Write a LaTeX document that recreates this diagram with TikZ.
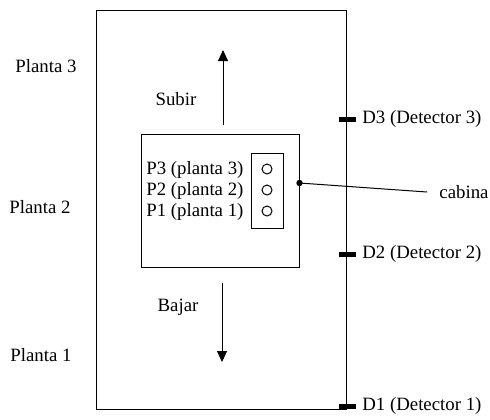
\documentclass[tikz,border=0pt]{standalone}
\usepackage{fontspec}
\setmainfont{Liberation Serif}
\usetikzlibrary{arrows.meta}
\tikzstyle{pared} = [rectangle, draw=black, line width=0.5pt, inner sep=0pt]
\tikzstyle{boton} = [circle, draw=black, line width=0.5pt, minimum size=5pt, inner sep=0pt]
\tikzstyle{texto} = [font=\fontsize{9.4}{11}\selectfont]
\tikzstyle{sensor} = [line width=2.5pt]
\tikzstyle{flecha} = [line width=0.5pt,-{Triangle[width=5pt,length=5.5pt]}]

\begin{document}
\begin{tikzpicture}[x=0.5pt,y=-0.5pt]
	\useasboundingbox (0,0) rectangle (490,419);

	\node (hueco) [pared, minimum width=125pt, minimum height=199.5pt] at (221,209.5) {};
	\node (cabin) [pared, minimum width=79pt, minimum height=66.5pt] at (220,200.5) {};
	\node (botonera) [pared, minimum width=16pt, minimum height=37.5pt] at (267,190.5) {};

	\node (boton3) [boton] at (267,169) {};
	\node (boton2) [boton] at (267,190) {};
	\node (boton1) [boton] at (267,211) {};
	\node (p3) [texto, anchor=east] at (botonera.west |- 0,170) {P3 (planta 3)};
	\node (p2) [texto, anchor=east] at (botonera.west |- 0,191) {P2 (planta 2)};
	\node (p1) [texto, anchor=east] at (botonera.west |- 0,212) {P1 (planta 1)};

	\node (planta3) [texto] at (46,66) {Planta 3};
	\node (planta2) [texto] at (40,207) {Planta 2};
	\node (planta1) [texto] at (41,355) {Planta 1};

	\node (subir) [texto] at (176,99) {Subir};
	\node (bajar) [texto] at (178,307) {Bajar};
	\coordinate (subirini) at (223,125);
	\coordinate (subirfin) at (223,50);
	\coordinate (bajarini) at (222,283);
	\coordinate (bajarfin) at (222,362);
	\draw [flecha] (subirini) -- (subirfin);
	\draw [flecha] (bajarini) -- (bajarfin);

	\node (cabina) [texto, inner sep=6pt] at (464,192) {cabina};
	\coordinate (enganche) at (cabin.east |- 0,183);
	\fill (enganche) circle (1.6pt);
	\draw [line width=0.5pt] (enganche) -- (cabina.west);

	\foreach \n/\y in {3/119,2/254,1/406}{
		\draw [sensor] (339,\y) -- (356,\y);
		\node (d\n) [texto, anchor=west, inner sep=2pt] at (358,\y) {D\n\ (Detector \n)};
	}

\end{tikzpicture}
\end{document}
